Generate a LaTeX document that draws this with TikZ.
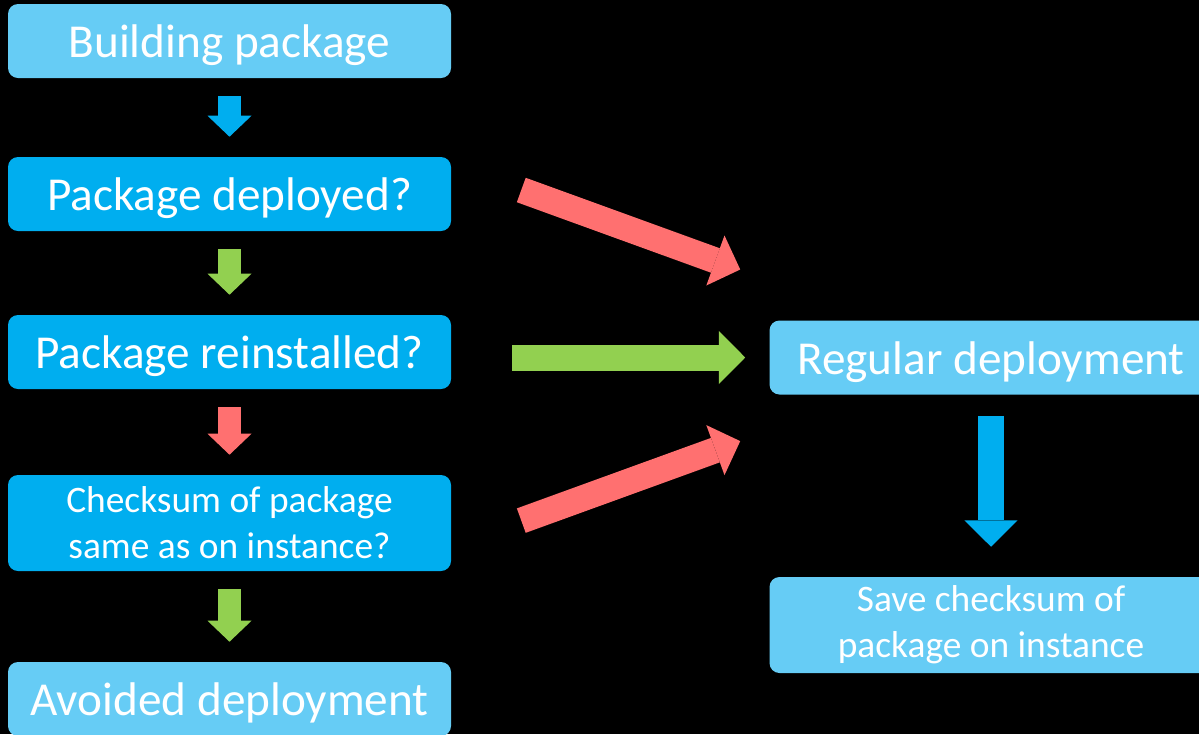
\documentclass[tikz,border=0pt]{standalone}
\usepackage{fontspec}
\setmainfont{Carlito}
\usetikzlibrary{arrows.meta}

\definecolor{lightsky}{RGB}{102,204,245}
\definecolor{darksky}{RGB}{0,174,239}
\definecolor{noRed}{RGB}{255,112,112}
\definecolor{yesGreen}{RGB}{146,208,80}

\begin{document}
\begin{tikzpicture}[
    box/.style={rectangle, rounded corners=0.25cm, inner sep=0pt,
      minimum width=11.075cm, minimum height=1.85cm,
      text=white, font=\fontsize{33.6}{40}\selectfont,
      text height=23.8pt, text depth=0pt},
    twoline/.style={minimum height=2.4cm, align=center,
      text height=, text depth=,
      font=\fontsize{26.6}{32.7}\selectfont},
    downarrow/.style={line width=0.575cm,
      -{Triangle[width=1.1cm, length=0.525cm, line width=0pt]},
      shorten <=0.45cm, shorten >=0.5cm},
    sidearrow/.style={line width=0.65cm,
      -{Triangle[width=1.33cm, length=0.66cm, line width=0pt]}},
  ]
      \fill[black] (0,0) rectangle (29.975,-18.35);
      \useasboundingbox (0,0) rectangle (29.975,-18.35);

      % left column
      \node[box, fill=lightsky] (build) at (5.7375,-1.025) {Building package};
      \node[box, fill=darksky] (deployed) at (5.7375,-4.85) {Package deployed?};
      \node[box, fill=darksky] (reinst) at (5.7375,-8.8) {Package reinstalled?};
      \node[box, twoline, fill=darksky] (same) at (5.7375,-13.075) {Checksum of package\\same as on instance?};
      \node[box, fill=lightsky] (avoided) at (5.7375,-17.475) {Avoided deployment};

      % right column
      \node[box, fill=lightsky] (regular) at (24.775,-8.9375) {Regular deployment};
      \node[box, twoline, fill=lightsky] (save) at (24.775,-15.625) {Save checksum of\\package on instance};

      \draw[downarrow, darksky] (build) -- (deployed);
      \draw[downarrow, yesGreen] (deployed) -- (reinst);
      \draw[downarrow, noRed] (reinst) -- (same);
      \draw[downarrow, yesGreen] (same) -- (avoided);
      \draw[sidearrow, darksky, shorten <=0.525cm, shorten >=0.75cm] (regular) -- (save);

      \draw[sidearrow, noRed] ([xshift=1.75cm, yshift=0.1cm]deployed.east) -- ([xshift=-0.725cm, yshift=2.2cm]regular.west);
      \draw[sidearrow, yesGreen, shorten <=1.525cm, shorten >=0.6cm] (reinst.east |- regular.west) -- (regular.west);
      \draw[sidearrow, noRed] ([xshift=1.75cm, yshift=0.06cm]same.east) -- ([xshift=-0.725cm, yshift=-2.09cm]regular.west);
    \end{tikzpicture}
\end{document}
